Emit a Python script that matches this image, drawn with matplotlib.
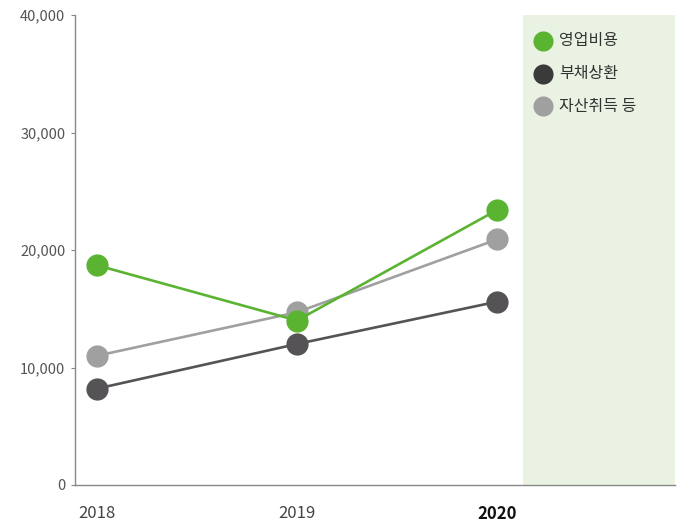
import matplotlib
matplotlib.use("Agg")
import matplotlib.pyplot as plt
from matplotlib.lines import Line2D

plt.rcParams['font.family'] = ['Noto Sans CJK KR', 'DejaVu Sans']

years = ['2018', '2019', '2020']
series_names = ['영업비용', '부채상환', '자산취득 등']
operating = [18700, 14000, 23400]
debt = [8200, 12000, 15600]
assets = [11000, 14700, 20900]
yticks = [0, 10000, 20000, 30000, 40000]

colors = ['#5bb431', '#555355', '#a0a0a0']
legend_colors = ['#5bb431', '#3a3a3a', '#a0a0a0']

fig = plt.figure(figsize=(6.91, 5.23), dpi=100)
W, H = 691, 523
ax = fig.add_axes([75 / W, (H - 485) / H, 600 / W, 470 / H])

x = list(range(len(years)))
ax.set_xlim(-0.11, 2.89)
ax.set_ylim(0, 40000)

ax.axvspan(2.13, 2.89, color='#eaf3e3', zorder=0, lw=0)

for vals, c, z in [(assets, colors[2], 3), (debt, colors[1], 4), (operating, colors[0], 5)]:
    ax.plot(x, vals, color=c, lw=1.9, marker='o', markersize=16, markeredgewidth=0, zorder=z)

ax.set_yticks(yticks)
ax.set_yticklabels([f'{v:,}' for v in yticks], fontsize=10.5, color='#555555')
ax.set_xticks(x)
ax.set_xticklabels(years, fontsize=12, color='#444444')
lbls = ax.get_xticklabels()
lbls[-1].set_fontweight('bold')
lbls[-1].set_color('#111111')

ax.tick_params(axis='x', length=0, pad=14.5)
ax.tick_params(axis='y', length=3, width=0.8, color='#888888', pad=4)

for s in ['top', 'right']:
    ax.spines[s].set_visible(False)
ax.spines['left'].set_color('#888888')
ax.spines['bottom'].set_color('#888888')
ax.spines['left'].set_linewidth(1)
ax.spines['bottom'].set_linewidth(1)

# legend (placed manually in figure pixel coordinates)
for i, (name, c) in enumerate(zip(series_names, legend_colors)):
    yp = 41 + i * 32.5
    fig.add_artist(Line2D([543 / W], [1 - yp / H], transform=fig.transFigure, ls='none',
                          marker='o', markersize=14.5, markeredgewidth=0, color=c))
    fig.text(559 / W, 1 - yp / H, name, fontsize=11.5, color='#333333', va='center', ha='left')

fig.savefig('out.png', dpi=100)
